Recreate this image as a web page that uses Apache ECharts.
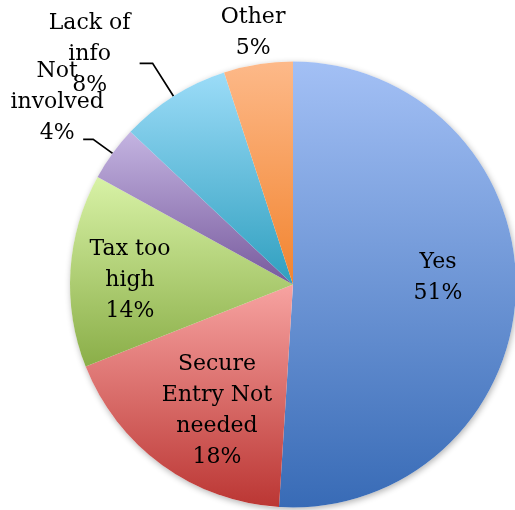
<!DOCTYPE html>
<html><head><meta charset="utf-8">
<script src="https://cdn.jsdelivr.net/npm/echarts@6/dist/echarts.min.js"></script>
<style>html,body{margin:0;padding:0;background:#fff}#c{width:515px;height:510px}</style>
</head><body><div id="c"></div>
<script>
// ---- data ----
const categories = ['Yes', 'Secure Entry Not needed', 'Tax too high', 'Not involved', 'Lack of info', 'Other'];
const labelTexts = ['Yes', 'Secure\nEntry Not\nneeded', 'Tax too\nhigh', 'Not\ninvolved', 'Lack of\ninfo', 'Other'];
const values = [51, 18, 14, 4, 8, 5];

// ---- styles ----
const topColors    = ['#a3c0f5', '#f7a3a1', '#d8f2a6', '#c4b4e1', '#9cdcf8', '#fdb989'];
const bottomColors = ['#386bb6', '#bb3633', '#8aae48', '#775a9d', '#2f9fbf', '#f2842f'];
const CX = 293, CY = 284.5, R = 223;
// label placement: inside ones relative to pie centre, outside ones via leader geometry
const labelPlace = [
  { inside: true, dx: 145, dy: -7 },
  { inside: true, dx: -76, dy: 126 },
  { inside: true, dx: -163, dy: -4 },
  { inside: false, len1: 24, len2: 10, tx: -26, ty: -37, line: true },
  { inside: false, len1: 39, len2: 13, tx: -50, ty: -9, line: true },
  { inside: false, len1: 0, len2: 0, tx: -5, ty: -31, line: false }
];

const total = values.reduce((a, b) => a + b, 0);
const mids = [];
let acc = 0;
values.forEach(v => { mids.push((acc + v / 2) / total * 2 * Math.PI); acc += v; });
function pt(a, r) { return [CX + r * Math.sin(a), CY - r * Math.cos(a)]; }

const data = categories.map((name, i) => ({
  name: name,
  value: values[i],
  itemStyle: {
    color: { type: 'linear', x: 0, y: 0, x2: 0, y2: 1,
      colorStops: [{ offset: 0, color: topColors[i] }, { offset: 1, color: bottomColors[i] }] }
  },
  label: { position: labelPlace[i].inside ? 'inside' : 'outside', formatter: labelTexts[i] + '\n' + values[i] + '%' },
  labelLine: { show: !!labelPlace[i].line }
}));

const chart = echarts.init(document.getElementById('c'), null, { renderer: 'canvas' });
chart.setOption({
  animation: false,
  backgroundColor: '#fff',
  series: [
    {
      type: 'pie', silent: true, z: 1,
      center: [CX, CY], radius: R,
      data: [{ value: 1, itemStyle: { color: '#fff', shadowBlur: 6, shadowOffsetY: 2, shadowOffsetX: 1, shadowColor: 'rgba(0,0,0,0.3)' } }],
      label: { show: false }, labelLine: { show: false }
    },
    {
      type: 'pie', z: 2,
      center: [CX, CY], radius: R,
      startAngle: 90, clockwise: true,
      avoidLabelOverlap: false,
      itemStyle: { borderWidth: 0 },
      label: {
        show: true, color: '#000', fontFamily: 'DejaVu Serif', fontSize: 22, lineHeight: 31,
        width: 160, overflow: 'none'
      },
      labelLine: { lineStyle: { color: '#000', width: 1.7 }, length: 10, length2: 10 },
      labelLayout: function (p) {
        const i = p.dataIndex, s = labelPlace[i];
        let x, y, pts = null;
        if (s.inside) { x = CX + s.dx; y = CY + s.dy; }
        else {
          const p1 = pt(mids[i], R), p2 = pt(mids[i], R + s.len1), p3 = [p2[0] - s.len2, p2[1]];
          x = p3[0] + s.tx; y = p3[1] + s.ty;
          if (s.line) pts = [p1, p2, p3];
        }
        const o = { x: x, y: y, align: 'center', verticalAlign: 'middle' };
        if (pts) o.labelLinePoints = pts;
        return o;
      },
      data: data
    }
  ]
});
</script></body></html>
